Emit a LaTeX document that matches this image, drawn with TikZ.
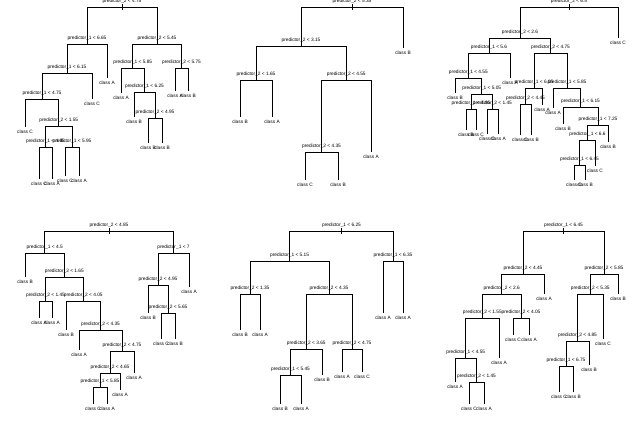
\documentclass[tikz,border=0pt]{standalone}
\usepackage{fontspec}
\setmainfont{Liberation Sans}
\newcommand\PrA{predictor\_1}
\newcommand\PrB{predictor\_2}
\tikzset{
  lab/.style={font=\fontsize{4.8pt}{5pt}\selectfont, inner sep=0pt, outer sep=0pt, anchor=base, text=black},
  br/.style={line width=1pt, black},
}
\newcommand\Spl[4]{\coordinate (#1) at (#2,#3); \node[lab] (#1l) at ([yshift=4.6pt]#1) {#4};}
\newcommand\Lf[4]{\coordinate (#1) at (#2,#3); \node[lab] (#1l) at ([yshift=-6.6pt]#1) {class #4};}
\newcommand\Cn[2]{\draw[br] (#1) -| (#2);}
\begin{document}
\begin{tikzpicture}[x=1pt,y=-1pt]
\useasboundingbox[fill=white] (0,0) rectangle (640,431);
% ---------- tree 1 ----------
\Spl{a0}{122}{7}{\PrB{} < 4.75}
\Spl{a1}{87}{44}{\PrA{} < 6.65}
\Lf{a2}{107}{78}{A}
\Spl{a3}{67}{73}{\PrA{} < 6.15}
\Lf{a4}{92}{99}{C}
\Spl{a5}{42}{99}{\PrA{} < 4.75}
\Lf{a6}{25}{127}{C}
\Spl{a7}{58.75}{126}{\PrB{} < 1.55}
\Spl{a8}{45.5}{147}{\PrA{} < 4.95}
\Lf{a9}{39}{179}{C}
\Lf{a10}{52}{179}{A}
\Spl{a11}{72}{147}{\PrA{} < 5.95}
\Lf{a12}{65}{176}{C}
\Lf{a13}{79}{176}{A}
\Spl{a14}{157}{44}{\PrB{} < 5.45}
\Spl{a15}{132.75}{68}{\PrA{} < 5.85}
\Lf{a16}{121}{93}{A}
\Spl{a17}{144.5}{92}{\PrA{} < 6.25}
\Lf{a18}{134}{117}{B}
\Spl{a19}{155}{118}{\PrB{} < 4.95}
\Lf{a20}{148}{143}{B}
\Lf{a21}{162}{143}{B}
\Spl{a22}{181.5}{68}{\PrB{} < 5.75}
\Lf{a23}{175}{91}{A}
\Lf{a24}{188}{91}{B}
\Cn{a0}{a1}\Cn{a0}{a14}\Cn{a1}{a3}\Cn{a1}{a2}\Cn{a3}{a5}\Cn{a3}{a4}
\Cn{a5}{a6}\Cn{a5}{a7}\Cn{a7}{a8}\Cn{a7}{a11}\Cn{a8}{a9}\Cn{a8}{a10}
\Cn{a11}{a12}\Cn{a11}{a13}\Cn{a14}{a15}\Cn{a14}{a22}\Cn{a15}{a16}\Cn{a15}{a17}
\Cn{a17}{a18}\Cn{a17}{a19}\Cn{a19}{a20}\Cn{a19}{a21}\Cn{a22}{a23}\Cn{a22}{a24}
\draw[br] ([yshift=3pt]a0) -- ([yshift=-3pt]a0);
% ---------- tree 2 ----------
\Spl{b0}{352}{7}{\PrB{} < 5.35}
\Lf{b1}{403}{48}{B}
\Spl{b2}{301}{46}{\PrB{} < 3.15}
\Spl{b3}{256}{80}{\PrB{} < 1.65}
\Lf{b4}{240}{117}{B}
\Lf{b5}{272}{117}{A}
\Spl{b6}{346.25}{80}{\PrB{} < 4.55}
\Spl{b7}{321.5}{152}{\PrB{} < 4.35}
\Lf{b8}{305}{180}{C}
\Lf{b9}{338}{180}{B}
\Lf{b10}{371}{152}{A}
\Cn{b0}{b2}\Cn{b0}{b1}\Cn{b2}{b3}\Cn{b2}{b6}\Cn{b3}{b4}\Cn{b3}{b5}
\Cn{b6}{b7}\Cn{b6}{b10}\Cn{b7}{b8}\Cn{b7}{b9}
\draw[br] ([yshift=3pt]b0) -- ([yshift=-3pt]b0);
% ---------- tree 3 ----------
\Spl{c0}{569}{7}{\PrB{} < 6.5}
\Lf{c1}{618}{38}{C}
\Spl{c2}{520}{38}{\PrB{} < 2.6}
\Spl{c3}{489}{53}{\PrA{} < 5.6}
\Lf{c4}{510}{78}{A}
\Spl{c5}{468.4}{78}{\PrA{} < 4.55}
\Lf{c6}{455}{93}{B}
\Spl{c7}{481.75}{94}{\PrA{} < 5.05}
\Spl{c8}{471}{109}{\PrA{} < 4.95}
\Lf{c9}{466}{130}{B}
\Lf{c10}{476}{130}{C}
\Spl{c11}{492.5}{109}{\PrB{} < 1.45}
\Lf{c12}{487}{134}{C}
\Lf{c13}{498}{134}{A}
\Spl{c14}{550.5}{53}{\PrB{} < 4.75}
\Spl{c15}{534}{88}{\PrA{} < 6.05}
\Spl{c16}{525.5}{104}{\PrB{} < 4.45}
\Lf{c17}{520}{135}{C}
\Lf{c18}{531}{135}{B}
\Lf{c19}{542}{105}{A}
\Spl{c20}{567}{88}{\PrA{} < 5.85}
\Lf{c21}{553}{108}{A}
\Spl{c22}{580.5}{107}{\PrA{} < 6.15}
\Lf{c23}{563}{124}{B}
\Spl{c24}{598}{125}{\PrA{} < 7.25}
\Spl{c25}{587.5}{140}{\PrA{} < 6.6}
\Spl{c26}{579.5}{165}{\PrA{} < 6.45}
\Lf{c27}{574}{180}{C}
\Lf{c28}{585}{180}{B}
\Lf{c29}{595}{166}{C}
\Lf{c30}{608}{142}{B}
\Cn{c0}{c2}\Cn{c0}{c1}\Cn{c2}{c3}\Cn{c2}{c14}\Cn{c3}{c5}\Cn{c3}{c4}
\Cn{c5}{c6}\Cn{c5}{c7}\Cn{c7}{c8}\Cn{c7}{c11}\Cn{c8}{c9}\Cn{c8}{c10}
\Cn{c11}{c12}\Cn{c11}{c13}\Cn{c14}{c15}\Cn{c14}{c20}\Cn{c15}{c16}\Cn{c15}{c19}
\Cn{c16}{c17}\Cn{c16}{c18}\Cn{c20}{c21}\Cn{c20}{c22}\Cn{c22}{c23}\Cn{c22}{c24}
\Cn{c24}{c25}\Cn{c24}{c30}\Cn{c25}{c26}\Cn{c25}{c29}\Cn{c26}{c27}\Cn{c26}{c28}
\draw[br] ([yshift=3pt]c0) -- ([yshift=-3pt]c0);
% ---------- tree 4 ----------
\Spl{d0}{109}{231}{\PrB{} < 4.85}
\Spl{d1}{44.7}{253}{\PrA{} < 4.5}
\Lf{d2}{25}{277}{B}
\Spl{d3}{64.4}{277}{\PrB{} < 1.65}
\Spl{d4}{45.5}{301}{\PrB{} < 1.45}
\Lf{d5}{39}{318}{A}
\Lf{d6}{52}{318}{A}
\Spl{d7}{83.25}{301}{\PrB{} < 4.05}
\Lf{d8}{66}{330}{B}
\Spl{d9}{100.5}{330}{\PrB{} < 4.35}
\Lf{d10}{79}{350}{A}
\Spl{d11}{122}{351}{\PrB{} < 4.75}
\Spl{d12}{110}{373}{\PrB{} < 4.65}
\Spl{d13}{100}{387}{\PrA{} < 5.85}
\Lf{d14}{93}{404}{C}
\Lf{d15}{107}{404}{A}
\Lf{d16}{120}{390}{A}
\Lf{d17}{134}{373}{A}
\Spl{d18}{173.5}{253}{\PrA{} < 7}
\Spl{d19}{158}{285}{\PrB{} < 4.95}
\Lf{d20}{148}{313}{B}
\Spl{d21}{168}{313}{\PrB{} < 5.65}
\Lf{d22}{161}{339}{C}
\Lf{d23}{175}{339}{B}
\Lf{d24}{189}{287}{A}
\Cn{d0}{d1}\Cn{d0}{d18}\Cn{d1}{d2}\Cn{d1}{d3}\Cn{d3}{d4}\Cn{d3}{d7}
\Cn{d4}{d5}\Cn{d4}{d6}\Cn{d7}{d8}\Cn{d7}{d9}\Cn{d9}{d10}\Cn{d9}{d11}
\Cn{d11}{d12}\Cn{d11}{d17}\Cn{d12}{d13}\Cn{d12}{d16}\Cn{d13}{d14}\Cn{d13}{d15}
\Cn{d18}{d19}\Cn{d18}{d24}\Cn{d19}{d20}\Cn{d19}{d21}\Cn{d21}{d22}\Cn{d21}{d23}
\draw[br] ([yshift=3pt]d0) -- ([yshift=-3pt]d0);
% ---------- tree 5 ----------
\Spl{e0}{341.5}{231}{\PrA{} < 6.25}
\Spl{e1}{289.6}{261}{\PrA{} < 5.15}
\Spl{e2}{250}{294}{\PrB{} < 1.35}
\Lf{e3}{240}{330}{B}
\Lf{e4}{260}{330}{A}
\Spl{e5}{329}{294}{\PrB{} < 4.35}
\Spl{e6}{306.25}{349}{\PrB{} < 3.65}
\Spl{e7}{290.5}{375}{\PrA{} < 5.45}
\Lf{e8}{280}{404}{B}
\Lf{e9}{301}{404}{A}
\Lf{e10}{322}{375}{B}
\Spl{e11}{352}{349}{\PrB{} < 4.75}
\Lf{e12}{342}{372}{A}
\Lf{e13}{362}{372}{C}
\Spl{e14}{393}{261}{\PrA{} < 6.35}
\Lf{e15}{383}{313}{A}
\Lf{e16}{403}{313}{A}
\Cn{e0}{e1}\Cn{e0}{e14}\Cn{e1}{e2}\Cn{e1}{e5}\Cn{e2}{e3}\Cn{e2}{e4}
\Cn{e5}{e6}\Cn{e5}{e11}\Cn{e6}{e7}\Cn{e6}{e10}\Cn{e7}{e8}\Cn{e7}{e9}
\Cn{e11}{e12}\Cn{e11}{e13}\Cn{e14}{e15}\Cn{e14}{e16}
\draw[br] ([yshift=3pt]e0) -- ([yshift=-3pt]e0);
% ---------- tree 6 ----------
\Spl{f0}{563.5}{231}{\PrA{} < 6.45}
\Spl{f1}{523}{274}{\PrB{} < 4.45}
\Spl{f2}{501.7}{294}{\PrB{} < 2.6}
\Spl{f3}{482.4}{318}{\PrB{} < 1.55}
\Spl{f4}{465.75}{358}{\PrA{} < 4.55}
\Lf{f5}{455}{382}{A}
\Spl{f6}{476.5}{382}{\PrB{} < 1.45}
\Lf{f7}{469}{404}{C}
\Lf{f8}{484}{404}{A}
\Lf{f9}{499}{358}{A}
\Spl{f10}{521}{318}{\PrB{} < 4.05}
\Lf{f11}{513}{335}{C}
\Lf{f12}{529}{335}{A}
\Lf{f13}{544}{294}{A}
\Spl{f14}{604}{274}{\PrB{} < 5.85}
\Spl{f15}{590.25}{294}{\PrB{} < 5.35}
\Spl{f16}{577.5}{341}{\PrB{} < 4.85}
\Spl{f17}{566}{366}{\PrA{} < 6.75}
\Lf{f18}{559}{392}{C}
\Lf{f19}{573}{392}{B}
\Lf{f20}{589}{365}{B}
\Lf{f21}{603}{339}{C}
\Lf{f22}{618}{294}{B}
\Cn{f0}{f1}\Cn{f0}{f14}\Cn{f1}{f2}\Cn{f1}{f13}\Cn{f2}{f3}\Cn{f2}{f10}
\Cn{f3}{f4}\Cn{f3}{f9}\Cn{f4}{f5}\Cn{f4}{f6}\Cn{f6}{f7}\Cn{f6}{f8}
\Cn{f10}{f11}\Cn{f10}{f12}\Cn{f14}{f15}\Cn{f14}{f22}\Cn{f15}{f16}\Cn{f15}{f21}
\Cn{f16}{f17}\Cn{f16}{f20}\Cn{f17}{f18}\Cn{f17}{f19}
\draw[br] ([yshift=3pt]f0) -- ([yshift=-3pt]f0);
\end{tikzpicture}
\end{document}
